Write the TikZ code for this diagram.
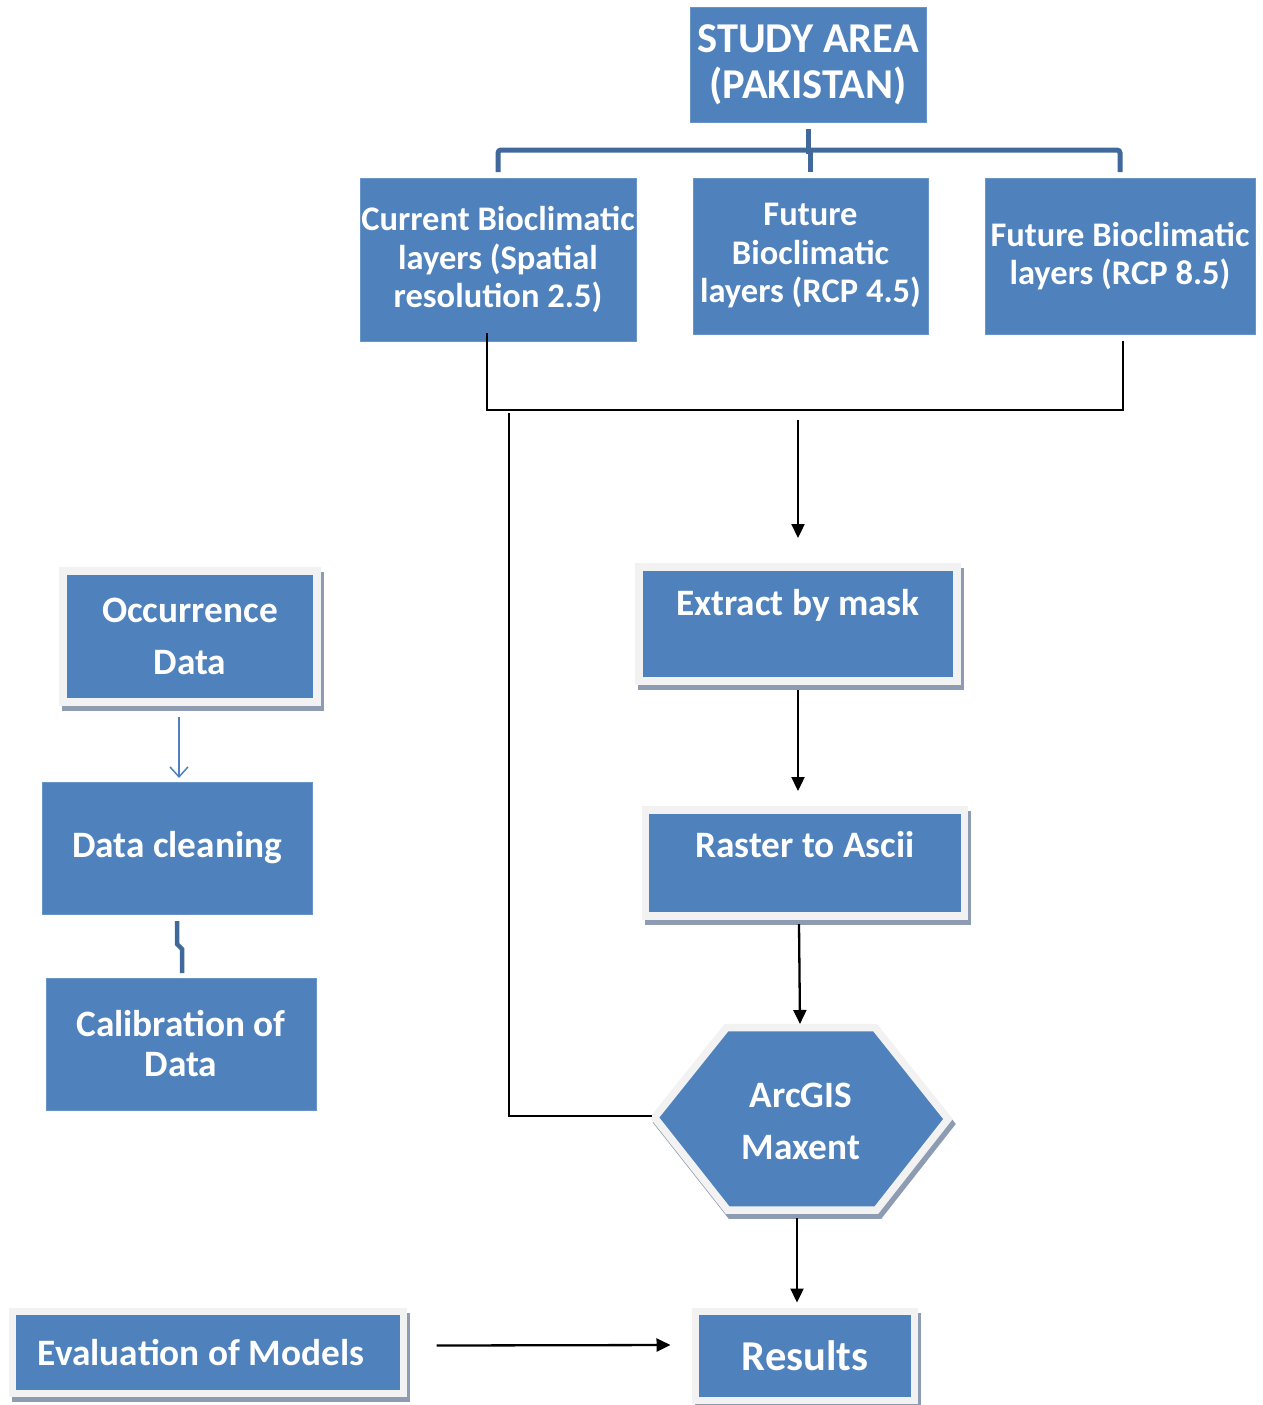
\documentclass[tikz,border=0pt]{standalone}
\usepackage{fontspec}
\setmainfont{Carlito}
\usetikzlibrary{arrows.meta,calc,shadows}
\definecolor{boxblue}{HTML}{4F81BD}
\definecolor{framegrey}{HTML}{F2F2F2}
\definecolor{shadowc}{HTML}{8D9CB2}
\definecolor{treeblue}{HTML}{41689A}
\begin{document}
\begin{tikzpicture}[x=1pt,y=-1pt,
  base/.style={fill=boxblue, text=white, align=center, inner sep=0pt, outer sep=0pt},
  plainbox/.style={base, draw=boxblue!85!white, line width=0.8pt},
  framed/.style={base, draw=framegrey, line width=7.5pt,
     drop shadow={shadow xshift=3pt, shadow yshift=-5pt, fill=shadowc, draw=shadowc, line width=7.5pt, opacity=1}},
  fmain/.style={font=\fontsize{37.3}{44}\selectfont\bfseries},
  ftop/.style={font=\fontsize{34.5}{38.5}\selectfont\bfseries},
  fbig/.style={font=\fontsize{42.5}{46}\selectfont\bfseries},
  tree/.style={draw=treeblue, line width=5pt},
  blk/.style={draw=black, line width=2.3pt},
  arr/.style={blk, -{Triangle[length=14pt,width=13pt]}},
  thinarr/.style={draw=boxblue, line width=1.5pt, -{Straight Barb[length=10pt,width=18pt]}}]
\useasboundingbox (0,0) rectangle (1262,1405);

% top boxes
\node[plainbox, fbig, minimum width=236pt, minimum height=115pt] (study) at (808,65) {STUDY AREA\\(PAKISTAN)};
\node[plainbox, ftop, minimum width=276pt, minimum height=163pt] (cur) at (498,259.5) {Current Bioclimatic\\layers (Spatial\\resolution 2.5)};
\node[plainbox, ftop, minimum width=235pt, minimum height=156pt] (fut45) at (810.5,256) {Future\\Bioclimatic\\layers (RCP 4.5)};
\node[plainbox, ftop, minimum width=270pt, minimum height=156pt] (fut85) at (1120,256) {Future Bioclimatic\\layers (RCP 8.5)};

% tree connector
\draw[tree] ($(study.south)+(0,6)$) -- ++(0,25);
\draw[tree, rounded corners=3pt] ($(cur.north)+(0,-6)$) |- ($(fut85.north)+(0,-28)$) -- ($(fut85.north)+(0,-6)$);
\draw[tree] ($(fut45.north)+(0,-6)$) -- ++(0,-24);

% left column
\node[framed, fmain, minimum width=254pt, minimum height=131pt] (occ) at (190,636.5) {Occurrence\\[8pt]Data};
\node[plainbox, fmain, minimum width=270pt, minimum height=132pt] (dc) at (177,848) {Data cleaning};
\node[plainbox, fmain, minimum width=270pt, minimum height=132pt] (cal) at (181,1044) {Calibration of\\[-4pt]Data};
\node[framed, fmain, minimum width=391pt, minimum height=82pt] (eval) at (208,1352.5) {Evaluation of Models\hspace*{14pt}};

% right column
\node[framed, fmain, minimum width=318pt, minimum height=114pt, text height=26pt, text depth=43pt] (ext) at (798,624) {Extract by mask};
\node[framed, fmain, minimum width=319pt, minimum height=106pt, text height=26pt, text depth=37pt] (ras) at (805,863) {Raster to Ascii};

% hexagon
\begin{scope}[shift={(3,5)}]
\path[fill=shadowc, draw=shadowc, line width=7.5pt] (654.5,1117.5) -- (726.5,1027.5) -- (875,1027.5) -- (948,1119) -- (876.5,1210) -- (727.5,1210) -- cycle;
\end{scope}
\path[fill=boxblue, draw=framegrey, line width=7.5pt] (654.5,1117.5) -- (726.5,1027.5) -- (875,1027.5) -- (948,1119) -- (876.5,1210) -- (727.5,1210) -- cycle;
\node[base, fill=none, fmain, minimum width=298pt, minimum height=186pt] (hex) at (801,1121) {ArcGIS\\[8pt]Maxent};

\node[framed, font=\fontsize{42.5}{48}\selectfont\bfseries, minimum width=219pt, minimum height=89pt] (res) at (805,1356) {Results};

% black connectors
\coordinate (barL) at (487,410);
\coordinate (barR) at (1123,410);
\coordinate (barM) at (798,420);
\coordinate (barLL) at (509,413);
\draw[blk] ($(cur.south)+(-11,-8)$) -- (barL) -- (barR) -- ($(fut85.south)+(3,7)$);
\draw[arr] (barM) -- ($(ext.north)+(0,-29)$);
\draw[blk] (barLL) |- ($(hex.west)+(0,-5)$);
\draw[arr] ($(ext.south)+(0,9)$) -- ($(ras.north)+(-7,-19)$);
\draw[arr] ($(ras.south)+(-6,8)$) -- ($(hex.north)+(-1,-4)$);
\draw[arr] ($(hex.south)+(-4,4)$) -- ($(res.north)+(-8,-9)$);
\draw[arr] ($(eval.east)+(33,-7)$) -- ($(res.west)+(-25,-11)$);

% left connectors
\draw[thinarr] ($(occ.south)+(-11,15)$) -- ($(dc.north)+(2,-4)$);
\draw[tree, line width=4.5pt] ($(dc.south)+(0,7)$) -- ++(0,23) -- ++(5,5) -- ++(0,24);
\end{tikzpicture}
\end{document}
